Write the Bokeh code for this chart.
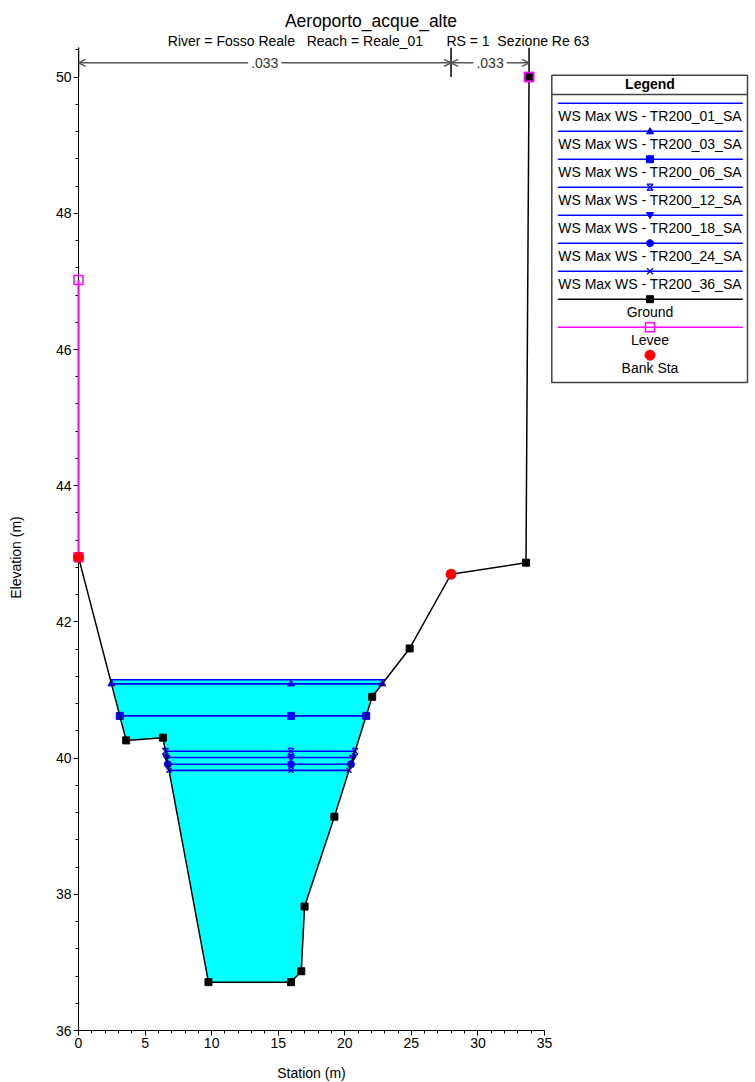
import numpy as np
from bokeh.plotting import figure
from bokeh.models import Range1d, SingleIntervalTicker, Arrow, OpenHead, Label
from bokeh.embed import file_html
from bokeh.resources import INLINE
from bokeh.core.properties import value

# ---------------- data ----------------
title_text = "Aeroporto_acque_alte"
subtitle_text = ("River = Fosso Reale\u00a0\u00a0 Reach = Reale_01"
                 "\u00a0\u00a0\u00a0\u00a0\u00a0 RS = 1\u00a0 Sezione Re 63")
x_label = "Station (m)"
y_label = "Elevation (m)"

ground_sta = [0.0, 3.58, 6.34, 9.76, 15.96, 16.73, 16.98, 19.22, 22.06, 24.87, 27.98, 33.61, 33.84]
ground_elev = [42.95, 40.26, 40.30, 36.71, 36.71, 36.87, 37.82, 39.14, 40.90, 41.61, 42.70, 42.87, 50.00]

ws_names = ["WS Max WS - TR200_01_SA", "WS Max WS - TR200_03_SA", "WS Max WS - TR200_06_SA",
            "WS Max WS - TR200_12_SA", "WS Max WS - TR200_18_SA", "WS Max WS - TR200_24_SA",
            "WS Max WS - TR200_36_SA"]
ws_elev = [41.15, 41.09, 40.62, 40.10, 40.01, 39.91, 39.82]
ws_markers = [None, "triangle", "square", "hourglass", "inverted_triangle", "circle", "x"]
ws_mid_sta = 15.96

bank_sta = [0.0, 27.98]
bank_elev = [42.95, 42.70]

levee_sta = [[0.0, 0.0], [33.84, 33.84]]
levee_elev = [[47.02, 42.95], [50.0, 50.0]]

n_sta = [0.0, 27.98, 33.84]
n_val = [".033", ".033"]

other_names = ["Ground", "Levee", "Bank Sta"]
legend_title = "Legend"

x_tick_interval = 5
y_tick_interval = 2

# ---------------- layout / styles ----------------
FONT = "Liberation Sans"
BLUE = "#0000FF"
CYAN = "#00FFFF"
MAGENTA = "#FF00FF"
RED = "#FF0000"

W, Hh = 755, 1082
FL, FR, FT, FB = 78, 544, 47, 1030          # frame edges in page pixels
X0, X1, Y0, Y1 = 0.0, 35.0, 36.0, 50.435     # axis ranges
KX = (X1 - X0) / (FR - FL)                   # data units per pixel
KY = (Y1 - Y0) / (FB - FT)


def dx(px):
    return X0 + (px - FL) * KX


def dy(py):
    return Y0 + (FB - py) * KY


def crossings(sta, elev, wse):
    sta = np.asarray(sta, float)
    elev = np.asarray(elev, float)
    m = int(np.argmin(elev))
    i = m
    while elev[i] < wse:
        i -= 1
    j = m
    while elev[j] < wse:
        j += 1
    xl = sta[i] + (wse - elev[i]) / (elev[i + 1] - elev[i]) * (sta[i + 1] - sta[i])
    xr = sta[j - 1] + (wse - elev[j - 1]) / (elev[j] - elev[j - 1]) * (sta[j] - sta[j - 1])
    return xl, xr, i, j


p = figure(width=W, height=Hh, x_range=Range1d(X0, X1), y_range=Range1d(Y0, Y1),
           output_backend="svg", toolbar_location=None,
           min_border_left=FL, min_border_right=W - FR, min_border_top=FT, min_border_bottom=Hh - FB)
p.outline_line_color = None
p.xgrid.visible = False
p.ygrid.visible = False
p.xaxis.ticker = SingleIntervalTicker(interval=x_tick_interval, num_minor_ticks=5)
p.yaxis.ticker = SingleIntervalTicker(interval=y_tick_interval, num_minor_ticks=5)
for ax in (p.xaxis[0], p.yaxis[0]):
    ax.major_tick_in = 0
    ax.major_tick_out = 5
    ax.minor_tick_in = 0
    ax.minor_tick_out = 3
    ax.axis_line_color = "black"
    ax.major_tick_line_color = "black"
    ax.minor_tick_line_color = "black"
    ax.major_label_text_font = FONT
    ax.major_label_text_font_size = "14px"
    ax.major_label_text_color = "black"
    ax.major_label_standoff = 2


def otext(x, y, t, size="14px", align="center", baseline="middle", angle=0.0, style="normal"):
    r = p.text(x=[x], y=[y], text=[t], text_font=value(FONT), text_font_size=size,
               text_align=align, text_baseline=baseline, angle=angle,
               text_font_style=style, text_color="black")
    r.level = "overlay"
    return r


def marker_shape(kind, cxp, cyp, s, color, fill=True, lw=1.0, level="overlay"):
    """Draw a marker of pixel size s centred at page pixel (cxp, cyp) with lines/patches."""
    h = s / 2.0
    rs = []
    if kind == "square":
        px = [-h, h, h, -h]
        py = [-h, -h, h, h]
    elif kind == "triangle":
        px = [0, h, -h]
        py = [-h, h * 0.75, h * 0.75]
    elif kind == "inverted_triangle":
        px = [0, h, -h]
        py = [h, -h * 0.75, -h * 0.75]
    elif kind == "circle":
        t = np.linspace(0, 2 * np.pi, 24, endpoint=False)
        px = list(h * np.cos(t))
        py = list(h * np.sin(t))
    elif kind in ("x", "hourglass"):
        segs = [([-h, h], [-h, h]), ([-h, h], [h, -h])]
        if kind == "hourglass":
            segs += [([-h, h], [-h, -h]), ([-h, h], [h, h])]
        for sx, sy in segs:
            r = p.line([dx(cxp + a) for a in sx], [dy(cyp + b) for b in sy],
                       line_color=color, line_width=lw)
            r.level = level
            rs.append(r)
        return rs
    else:
        return rs
    xs = [dx(cxp + a) for a in px]
    ys = [dy(cyp + b) for b in py]
    if fill:
        r = p.patch(xs, ys, fill_color=color, line_color=color, line_width=lw)
    else:
        r = p.line(xs + xs[:1], ys + ys[:1], line_color=color, line_width=lw)
    r.level = level
    rs.append(r)
    return rs


def data_to_px(x, y):
    return FL + (x - X0) / KX, FB - (y - Y0) / KY


# titles and axis labels
otext(dx(370.5), dy(20.7), title_text, size="17.5px", baseline="alphabetic")
otext(dx(378), dy(40.7), subtitle_text, size="14px", baseline="alphabetic")
otext(dx(311), dy(1072), x_label)
otext(dx(15), dy(557), y_label, angle=np.pi / 2)

# water fill under highest WS
wmax = max(ws_elev)
xl, xr, i0, j0 = crossings(ground_sta, ground_elev, wmax)
fx = [xl] + ground_sta[i0 + 1:j0] + [xr]
fy = [wmax] + ground_elev[i0 + 1:j0] + [wmax]
p.patch(fx, fy, fill_color=CYAN, line_color=None)

# water surfaces
for w, mk in zip(ws_elev, ws_markers):
    a, b, _, _ = crossings(ground_sta, ground_elev, w)
    p.line([a, b], [w, w], line_color=BLUE, line_width=1.6)
    if mk is None:
        continue
    if mk == "hourglass":
        for xm in (a, ws_mid_sta, b):
            cxp, cyp = data_to_px(xm, w)
            marker_shape("hourglass", cxp, cyp, 6, BLUE, lw=1.2, level="glyph")
    else:
        lw = 1.5 if mk == "x" else 1
        p.scatter([a, ws_mid_sta, b], [w, w, w], marker=mk, size=7, fill_color=BLUE,
                  line_color=BLUE, line_width=lw)

# ground
p.line(ground_sta, ground_elev, line_color="black", line_width=1.5)

# levees, ground points, bank stations (drawn above the axes)
lev = p.multi_line(levee_sta, levee_elev, line_color=MAGENTA, line_width=2)
lev.level = "overlay"
gm = p.scatter(ground_sta, ground_elev, marker="square", size=7, fill_color="black", line_color="black")
gm.level = "overlay"
lx = [s for seg in levee_sta for s in seg]
ly = [e for seg in levee_elev for e in seg]
lm = p.scatter(lx, ly, marker="square", size=9, fill_color=None, line_color=MAGENTA, line_width=1.5)
lm.level = "overlay"
bm = p.scatter(bank_sta, bank_elev, marker="circle", size=10, fill_color=RED, line_color=RED)
bm.level = "overlay"

# Manning's n zones
p.segment(x0=n_sta, y0=[50.0] * len(n_sta), x1=n_sta, y1=[Y1] * len(n_sta),
          line_color="black", line_width=1.5)
y_arrow = dy(62.3)
for k, nv in enumerate(n_val):
    s0, s1 = n_sta[k], n_sta[k + 1]
    p.add_layout(Arrow(start=OpenHead(size=7, line_color="#555555", line_width=1.5),
                       end=OpenHead(size=7, line_color="#555555", line_width=1.5),
                       x_start=s0, y_start=y_arrow, x_end=s1, y_end=y_arrow,
                       line_color="#555555", line_width=1.5))
    p.add_layout(Label(x=(s0 + s1) / 2, y=y_arrow, text=nv, text_align="center",
                       text_baseline="middle", text_font=FONT, text_font_size="14px",
                       text_color="#333333", background_fill_color="white", padding=3))

# ---------------- legend (outside the frame, on the right) ----------------
bx0, bx1, by0, by1 = 551.3, 747.0, 74.7, 382.0
box = p.quad(left=[dx(bx0)], right=[dx(bx1)], top=[dy(by0)], bottom=[dy(by1)],
             fill_color="white", line_color="#444444", line_width=1.5)
box.level = "overlay"
sep = p.line([dx(bx0), dx(bx1)], [dy(94), dy(94)], line_color="#444444", line_width=1.5)
sep.level = "overlay"
cx = 649.5
otext(dx(cx), dy(83.8), legend_title, style="bold")

names = ws_names + other_names
line_colors = [BLUE] * len(ws_names) + ["black", MAGENTA, None]
markers = ws_markers + ["square", "square", "circle"]
m_color = [BLUE] * len(ws_names) + ["black", MAGENTA, RED]
m_filled = [True] * len(ws_names) + [True, False, True]
m_size = [7, 7, 7, 6, 7, 7, 6, 7, 9, 10]
lx0, lx1 = 557.3, 742.3
for k, name in enumerate(names):
    yl = 102.7 + 28 * k
    yt = 115.5 + 28 * k
    if line_colors[k] is not None:
        r = p.line([dx(lx0), dx(lx1)], [dy(yl), dy(yl)], line_color=line_colors[k], line_width=1.6)
        r.level = "overlay"
    if markers[k] is not None:
        lw = 1.3 if markers[k] in ("x", "hourglass") else (1.5 if not m_filled[k] else 1.0)
        marker_shape(markers[k], cx, yl, m_size[k], m_color[k], fill=m_filled[k], lw=lw)
    otext(dx(cx), dy(yt), name)

open("out.html", "w").write(file_html(p, INLINE))
